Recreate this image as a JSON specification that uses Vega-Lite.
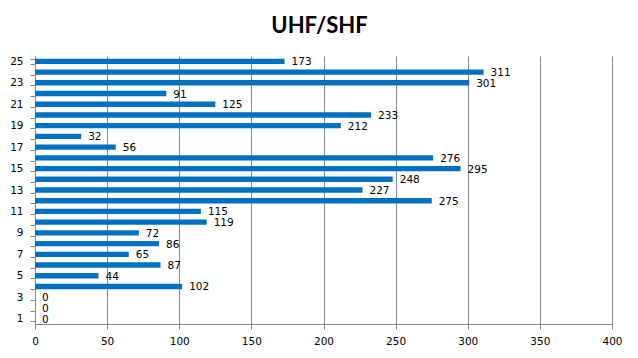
{
  "$schema": "https://vega.github.io/schema/vega-lite/v6.json",
  "autosize": "none",
  "width": 577,
  "height": 268,
  "padding": {"left": 35, "top": 56, "right": 26, "bottom": 34},
  "background": "white",
  "title": {
    "text": "UHF/SHF",
    "font": "Lato",
    "fontSize": 22,
    "fontWeight": "bold",
    "color": "#000000",
    "anchor": "middle",
    "offset": 13,
    "dx": -4
  },
  "data": {
    "values": [
      {"cat": 1, "value": 0},
      {"cat": 2, "value": 0},
      {"cat": 3, "value": 0},
      {"cat": 4, "value": 102},
      {"cat": 5, "value": 44},
      {"cat": 6, "value": 87},
      {"cat": 7, "value": 65},
      {"cat": 8, "value": 86},
      {"cat": 9, "value": 72},
      {"cat": 10, "value": 119},
      {"cat": 11, "value": 115},
      {"cat": 12, "value": 275},
      {"cat": 13, "value": 227},
      {"cat": 14, "value": 248},
      {"cat": 15, "value": 295},
      {"cat": 16, "value": 276},
      {"cat": 17, "value": 56},
      {"cat": 18, "value": 32},
      {"cat": 19, "value": 212},
      {"cat": 20, "value": 233},
      {"cat": 21, "value": 125},
      {"cat": 22, "value": 91},
      {"cat": 23, "value": 301},
      {"cat": 24, "value": 311},
      {"cat": 25, "value": 173}
    ]
  },
  "encoding": {
    "y": {
      "field": "cat",
      "type": "ordinal",
      "sort": "descending",
      "scale": {"paddingInner": 0.5, "paddingOuter": 0.25},
      "axis": {
        "title": null,
        "labelExpr": "datum.value % 2 == 1 ? datum.label : ''",
        "tickBand": "extent",
        "domainColor": "#868686",
        "tickColor": "#868686",
        "tickSize": 5,
        "labelPadding": 7,
        "labelFont": "DejaVu Sans",
        "labelFontSize": 10.5,
        "labelColor": "#000000",
        "grid": false
      }
    },
    "x": {
      "field": "value",
      "type": "quantitative",
      "scale": {"domain": [0, 400], "nice": false},
      "axis": {
        "title": null,
        "values": [0, 50, 100, 150, 200, 250, 300, 350, 400],
        "grid": true,
        "gridColor": "#868686",
        "domainColor": "#868686",
        "tickColor": "#868686",
        "tickSize": 5,
        "labelPadding": 7,
        "labelFont": "DejaVu Sans",
        "labelFontSize": 10.5,
        "labelColor": "#000000",
        "labelFlush": false
      }
    }
  },
  "layer": [
    {"mark": {"type": "bar", "color": "#0070c0"}},
    {
      "mark": {
        "type": "text",
        "align": "left",
        "baseline": "middle",
        "dx": 7,
        "dy": 1,
        "font": "DejaVu Sans",
        "fontSize": 10.5,
        "color": "#000000"
      },
      "encoding": {"text": {"field": "value", "type": "quantitative"}}
    }
  ],
  "config": {"view": {"stroke": null}}
}
